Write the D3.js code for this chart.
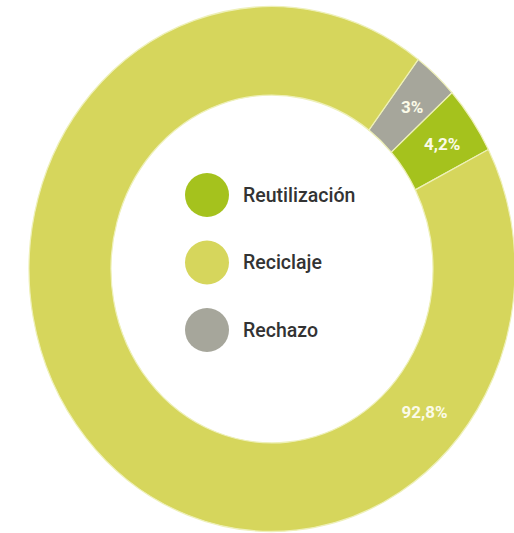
<!DOCTYPE html>
<html>
<head>
<meta charset="utf-8">
<script src="https://cdn.jsdelivr.net/npm/d3@7"></script>
<style>
  body { margin: 0; background: #fff; }
  svg { display: block; }
</style>
</head>
<body>
<svg id="chart" width="514" height="533"></svg>
<script>
// donut order, clockwise from the gray slice
const categories = ['Rechazo', 'Reutilización', 'Reciclaje'];
const values = [3, 4.2, 92.8];
const labels = ['3%', '4,2%', '92,8%'];
const legendOrder = ['Reutilización', 'Reciclaje', 'Rechazo'];

const colors = {
  'Reutilización': '#a5c21d',
  'Reciclaje': '#d6d65c',
  'Rechazo': '#a6a69b'
};

const width = 514, height = 533;
const cx = 272, cy = 269;
const rOuter = 243, rInner = 161;
const squash = 1.08; // reference is stretched vertically a bit

const svg = d3.select('#chart');
const g = svg.append('g')
  .attr('transform', `translate(${cx},${cy}) scale(1,${squash})`);

const start = 37 * Math.PI / 180;
const pie = d3.pie().sort(null).value(d => d.v)
  .startAngle(start).endAngle(start + 2 * Math.PI);

const arcs = pie(categories.map((c, i) => ({ c, v: values[i], label: labels[i] })));
const arc = d3.arc().innerRadius(rInner).outerRadius(rOuter);

g.selectAll('path')
  .data(arcs)
  .join('path')
  .attr('d', arc)
  .attr('fill', d => colors[d.data.c])
  .attr('stroke', '#eef0b8')
  .attr('stroke-width', 1.2);

// label spot: centroid for small slices, lower right for the big one
const rMid = (rInner + rOuter) / 2;
function labelPos(d) {
  if (d.data.c === 'Reciclaje') {
    const a = 131 * Math.PI / 180;
    return [rMid * Math.sin(a), -rMid * Math.cos(a) * squash];
  }
  const [x, y] = arc.centroid(d);
  return [x + 4, y * squash - 1];
}

svg.append('g')
  .attr('transform', `translate(${cx},${cy})`)
  .selectAll('text')
  .data(arcs)
  .join('text')
  .attr('x', d => labelPos(d)[0])
  .attr('y', d => labelPos(d)[1])
  .attr('text-anchor', 'middle')
  .attr('dominant-baseline', 'central')
  .attr('font-family', 'Roboto, sans-serif')
  .attr('font-weight', 'bold')
  .attr('font-size', 17)
  .attr('fill', '#fbfbe8')
  .text(d => d.data.label);

// legend in the hole
const legend = svg.append('g')
  .selectAll('g')
  .data(legendOrder)
  .join('g')
  .attr('transform', (d, i) => `translate(207,${195 + i * 67.5})`);

legend.append('circle')
  .attr('r', 22)
  .attr('fill', d => colors[d]);

legend.append('text')
  .attr('x', 36)
  .attr('dominant-baseline', 'central')
  .attr('font-family', 'Roboto, sans-serif')
  .attr('font-weight', 500)
  .attr('font-size', 19.5)
  .attr('fill', '#333')
  .text(d => d);
</script>
</body>
</html>
